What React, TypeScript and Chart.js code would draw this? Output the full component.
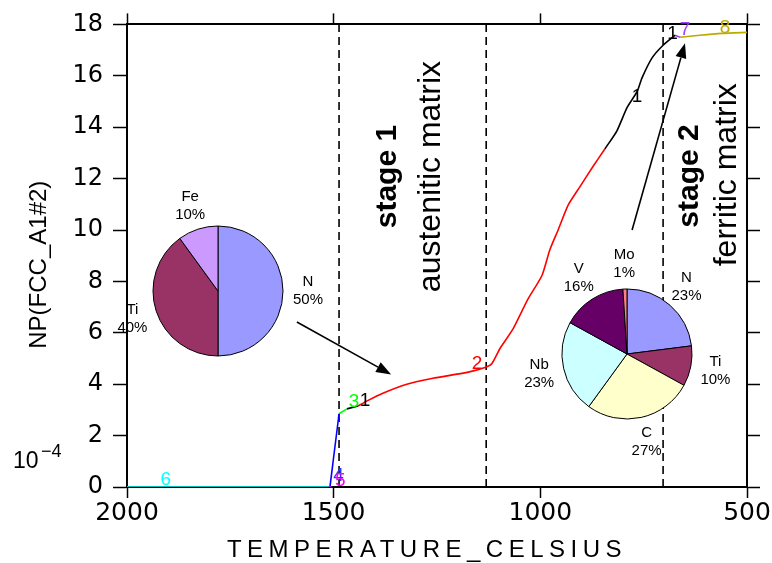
import React, { useEffect, useRef } from 'react';
import { Chart, registerables } from 'chart.js';

Chart.register(...registerables);

// ---------- axis ticks ----------
const xTickValues = [2000, 1500, 1000, 500];
const yTickValues = [0, 2, 4, 6, 8, 10, 12, 14, 16, 18];

// ---------- curve segments (temperature °C, NP value) ----------
const cyanT = [2000, 1512];
const cyanNP = [0, 0];
const magentaT = [1513, 1506];
const magentaNP = [0, 0];
const blueT = [1509, 1487];
const blueNP = [0, 2.85];
const greenT = [1487, 1468];
const greenNP = [2.85, 3.04];
const black1T = [1468, 1441];
const black1NP = [3.04, 3.15];
const redT = [1441, 1419, 1381, 1323, 1260, 1177, 1134, 1117, 1098, 1066, 1030, 996, 977, 957, 933, 904, 873, 844];
const redNP = [3.15, 3.35, 3.65, 4.0, 4.23, 4.46, 4.65, 4.81, 5.38, 6.15, 7.31, 8.23, 9.23, 10.0, 10.96, 11.69, 12.46, 13.15];
const black2T = [844, 815, 790, 766, 754, 730, 703, 674];
const black2NP = [13.15, 13.85, 14.77, 15.38, 15.92, 16.69, 17.19, 17.58];
const purpleT = [674, 662];
const purpleNP = [17.58, 17.5];
const oliveT = [662, 614, 560, 500];
const oliveNP = [17.5, 17.58, 17.65, 17.69];

// stage boundaries (dashed lines)
const stageBoundaries = [1487, 1131, 703];

// curve number labels
const curveLabelText = ['6', '4', '5', '3', '1', '2', '1', '1', '7', '8'];
const curveLabelT = [1906, 1488, 1484, 1451, 1424, 1153, 766, 680, 650, 553];
const curveLabelNP = [0.27, 0.45, 0.25, 3.3, 3.35, 4.8, 15.2, 17.65, 17.8, 17.88];
const curveLabelColor = ['#00FFFF', '#3030FF', '#FF00FF', '#00FF00', '#000000', '#FF0000', '#000000', '#000000', '#A040FF', '#BBAA00'];

// arrows (tail -> tip), data coordinates
const arrowFromT = [1589, 778];
const arrowFromNP = [6.42, 10.0];
const arrowToT = [1361, 650];
const arrowToNP = [4.38, 17.27];

// pies
const pie1Labels = ['N', 'Ti', 'Fe'];
const pie1Values = [50, 40, 10];
const pie1Colors = ['#9999FF', '#993366', '#CC99FF'];
const pie2Labels = ['N', 'Ti', 'C', 'Nb', 'V', 'Mo'];
const pie2Values = [23, 10, 27, 23, 16, 1];
const pie2Colors = ['#9999FF', '#993366', '#FFFFCC', '#CCFFFF', '#660066', '#FF8080'];

const pts = (t: number[], v: number[]) => t.map((x, i) => ({ x, y: v[i] }));

function seg(t: number[], v: number[], color: string, tension = 0) {
  return {
    data: pts(t, v),
    borderColor: color,
    borderWidth: 1.6,
    pointRadius: 0,
    tension,
    fill: false,
  };
}

function drawArrow(ctx: CanvasRenderingContext2D, x1: number, y1: number, x2: number, y2: number) {
  const ang = Math.atan2(y2 - y1, x2 - x1);
  const len = 15;
  const hw = 5.5;
  const bx = x2 - len * Math.cos(ang);
  const by = y2 - len * Math.sin(ang);
  ctx.save();
  ctx.strokeStyle = '#000';
  ctx.fillStyle = '#000';
  ctx.lineWidth = 1.6;
  ctx.beginPath();
  ctx.moveTo(x1, y1);
  ctx.lineTo(bx, by);
  ctx.stroke();
  ctx.beginPath();
  ctx.moveTo(x2, y2);
  ctx.lineTo(bx + hw * Math.sin(ang), by - hw * Math.cos(ang));
  ctx.lineTo(bx - hw * Math.sin(ang), by + hw * Math.cos(ang));
  ctx.closePath();
  ctx.fill();
  ctx.restore();
}

function rotatedText(ctx: CanvasRenderingContext2D, text: string, x: number, y: number, font: string) {
  ctx.save();
  ctx.translate(x, y);
  ctx.rotate(-Math.PI / 2);
  ctx.font = font;
  ctx.fillStyle = '#000';
  ctx.textAlign = 'center';
  ctx.textBaseline = 'alphabetic';
  ctx.fillText(text, 0, 0);
  ctx.restore();
}

const overlayPlugin = {
  id: 'overlay',
  afterDatasetsDraw(chart: any) {
    const { ctx } = chart;
    const x = chart.scales.x;
    const y = chart.scales.y;
    // arrows
    arrowFromT.forEach((t, i) => {
      drawArrow(
        ctx,
        x.getPixelForValue(t),
        y.getPixelForValue(arrowFromNP[i]),
        x.getPixelForValue(arrowToT[i]),
        y.getPixelForValue(arrowToNP[i])
      );
    });
    // curve labels
    ctx.save();
    ctx.font = '19px "Liberation Sans"';
    ctx.textAlign = 'center';
    ctx.textBaseline = 'middle';
    curveLabelText.forEach((s, i) => {
      ctx.fillStyle = curveLabelColor[i];
      ctx.fillText(s, x.getPixelForValue(curveLabelT[i]), y.getPixelForValue(curveLabelNP[i]));
    });
    ctx.restore();
    // stage texts
    rotatedText(ctx, 'stage 1', x.getPixelForValue(1349), y.getPixelForValue(12.08), 'bold 30px "Liberation Sans"');
    rotatedText(ctx, 'austenitic matrix', x.getPixelForValue(1243), y.getPixelForValue(12.08), '32px "Liberation Sans"');
    rotatedText(ctx, 'stage 2', x.getPixelForValue(618), y.getPixelForValue(12.1), 'bold 30px "Liberation Sans"');
    rotatedText(ctx, 'ferritic matrix', x.getPixelForValue(527), y.getPixelForValue(12.15), '32px "Liberation Sans"');
  },
  afterDraw(chart: any) {
    const { ctx } = chart;
    const area = chart.chartArea;
    // x title
    ctx.save();
    ctx.font = '24px "Liberation Sans"';
    (ctx as any).letterSpacing = '5.5px';
    ctx.fillStyle = '#000';
    ctx.textAlign = 'center';
    ctx.textBaseline = 'alphabetic';
    ctx.fillText('TEMPERATURE_CELSIUS', (area.left + area.right) / 2 - 10, 557);
    ctx.restore();
    // y title
    rotatedText(ctx, 'NP(FCC_A1#2)', 46, (area.top + area.bottom) / 2 + 9, '24px "Liberation Sans"');
    // 10^-4
    ctx.save();
    ctx.fillStyle = '#000';
    ctx.textBaseline = 'alphabetic';
    ctx.textAlign = 'left';
    ctx.font = '23px "Liberation Sans"';
    ctx.fillText('10', 13, 468);
    ctx.font = '18px "Liberation Sans"';
    ctx.fillText('\u22124', 41, 457);
    ctx.restore();
  },
};

const pieLabelPlugin = {
  id: 'pieLabels',
  afterDraw(chart: any) {
    const ctx = chart.ctx;
    const meta = chart.getDatasetMeta(0);
    const vals: number[] = chart.data.datasets[0].data;
    const total = vals.reduce((a, b) => a + b, 0);
    ctx.save();
    ctx.font = '15px "Liberation Sans"';
    ctx.fillStyle = '#000';
    ctx.textAlign = 'center';
    ctx.textBaseline = 'middle';
    meta.data.forEach((arc: any, i: number) => {
      const p = arc.getProps(['x', 'y', 'startAngle', 'endAngle'], true);
      const mid = (p.startAngle + p.endAngle) / 2;
      const d = 90;
      const lx = p.x + d * Math.cos(mid);
      const ly = p.y + d * Math.sin(mid);
      ctx.fillText(chart.data.labels[i], lx, ly - 9);
      ctx.fillText(Math.round((vals[i] / total) * 100) + '%', lx, ly + 9);
    });
    ctx.restore();
  },
};

function PieInset(props: { labels: string[]; values: number[]; colors: string[]; cx: number; cy: number }) {
  const ref = useRef<HTMLCanvasElement>(null);
  useEffect(() => {
    if (!ref.current) return;
    const chart = new Chart(ref.current, {
      type: 'pie',
      data: {
        labels: props.labels,
        datasets: [
          {
            data: props.values,
            backgroundColor: props.colors,
            borderColor: '#000',
            borderWidth: 1,
            hoverOffset: 0,
          },
        ],
      },
      options: {
        responsive: false,
        animation: false,
        radius: 65,
        events: [],
        layout: { padding: 0 },
        plugins: { legend: { display: false }, tooltip: { enabled: false } },
      } as any,
      plugins: [pieLabelPlugin],
    });
    return () => chart.destroy();
  }, []);
  return (
    <canvas
      ref={ref}
      width={260}
      height={240}
      style={{ position: 'absolute', left: props.cx - 130, top: props.cy - 120 }}
    />
  );
}

function MainChart() {
  const ref = useRef<HTMLCanvasElement>(null);
  useEffect(() => {
    if (!ref.current) return;
    const axisFontX = { family: 'DejaVu Sans', size: 25 };
    const axisFontY = { family: 'DejaVu Sans', size: 24 };
    const grid = (len: number) => ({
      drawOnChartArea: false,
      drawTicks: true,
      tickLength: len,
      tickColor: '#000',
      tickWidth: 1.5,
      color: '#000',
    });
    const border = { display: true, color: '#000', width: 2 };
    const dashed = stageBoundaries.map((t) => ({
      data: [
        { x: t, y: 0 },
        { x: t, y: 18 },
      ],
      borderColor: '#000',
      borderWidth: 1.6,
      borderDash: [8, 5],
      pointRadius: 0,
      fill: false,
    }));
    const chart = new Chart(ref.current, {
      type: 'line',
      data: {
        datasets: [
          seg(cyanT, cyanNP, '#00FFFF'),
          seg(magentaT, magentaNP, '#FF00FF'),
          seg(blueT, blueNP, '#0000FF'),
          seg(greenT, greenNP, '#00FF00'),
          seg(black1T, black1NP, '#000000'),
          seg(redT, redNP, '#FF0000', 0.2),
          seg(black2T, black2NP, '#000000', 0.2),
          seg(purpleT, purpleNP, '#A040FF'),
          seg(oliveT, oliveNP, '#BBAA00', 0.2),
          ...dashed,
        ] as any,
      },
      options: {
        responsive: false,
        animation: false,
        events: [],
        layout: { padding: 0 },
        plugins: { legend: { display: false }, tooltip: { enabled: false } },
        scales: {
          x: {
            type: 'linear',
            position: 'bottom',
            reverse: true,
            min: 500,
            max: 2000,
            afterBuildTicks: (s: any) => {
              s.ticks = xTickValues.map((v) => ({ value: v }));
            },
            afterFit: (s: any) => {
              s.height = 76;
            },
            ticks: {
              font: axisFontX,
              color: '#000',
              padding: 0,
              maxRotation: 0,
              autoSkip: false,
              callback: (v: any) => String(v),
            },
            grid: grid(11),
            border,
          },
          x2: {
            type: 'linear',
            position: 'top',
            reverse: true,
            min: 500,
            max: 2000,
            afterBuildTicks: (s: any) => {
              s.ticks = xTickValues.map((v) => ({ value: v }));
            },
            afterFit: (s: any) => {
              s.height = 19;
            },
            ticks: { display: false },
            grid: grid(11),
            border,
          },
          y: {
            type: 'linear',
            position: 'left',
            min: 0,
            max: 18,
            afterBuildTicks: (s: any) => {
              s.ticks = yTickValues.map((v) => ({ value: v }));
            },
            afterFit: (s: any) => {
              s.width = 127;
            },
            ticks: { font: axisFontY, color: '#000', padding: 10, autoSkip: false, callback: (v: any) => String(v) },
            grid: grid(14),
            border,
          },
          y2: {
            type: 'linear',
            position: 'right',
            min: 0,
            max: 18,
            afterBuildTicks: (s: any) => {
              s.ticks = yTickValues.map((v) => ({ value: v }));
            },
            afterFit: (s: any) => {
              s.width = 25;
            },
            ticks: { display: false },
            grid: grid(13),
            border,
          },
        },
      } as any,
      plugins: [overlayPlugin],
    });
    return () => chart.destroy();
  }, []);
  return <canvas ref={ref} width={772} height={563} style={{ position: 'absolute', left: 0, top: 0 }} />;
}

export default function App() {
  return (
    <div style={{ position: 'absolute', left: 0, top: 0, width: 772, height: 563, background: '#fff' }}>
      <MainChart />
      <PieInset labels={pie1Labels} values={pie1Values} colors={pie1Colors} cx={218} cy={291} />
      <PieInset labels={pie2Labels} values={pie2Values} colors={pie2Colors} cx={627} cy={354} />
    </div>
  );
}
